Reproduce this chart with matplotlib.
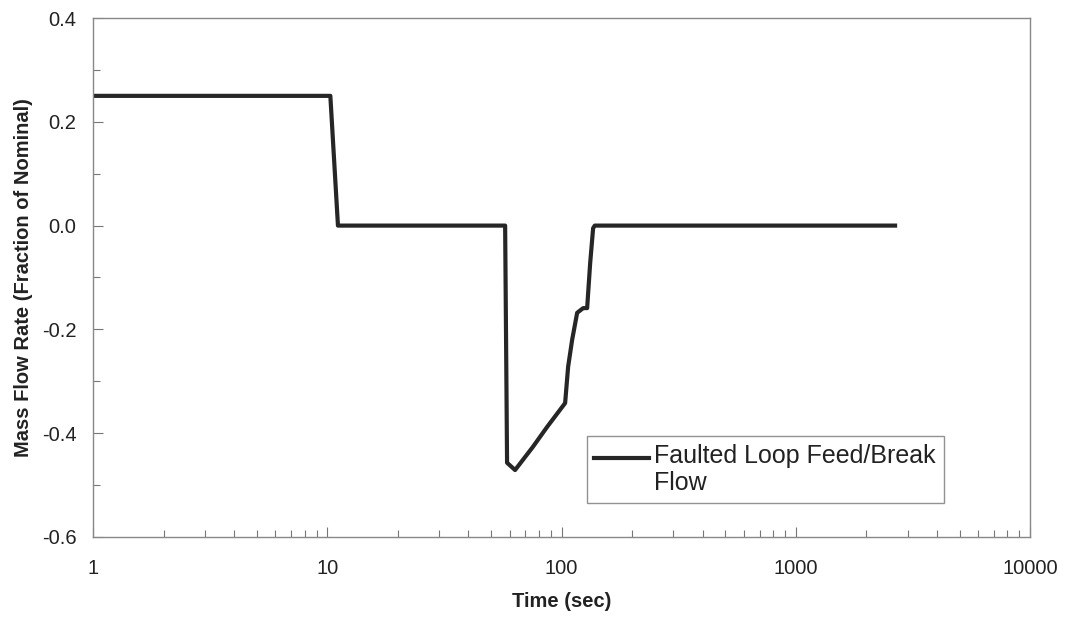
import matplotlib
matplotlib.use("Agg")
import matplotlib.pyplot as plt
from matplotlib.legend_handler import HandlerLine2D
from matplotlib.transforms import Affine2D
from matplotlib.ticker import FixedLocator, FixedFormatter, LogLocator, MultipleLocator, NullFormatter

plt.rcParams['font.family'] = ['Liberation Sans', 'DejaVu Sans']

# faulted loop feed / break flow vs. time
time_sec = [1.0, 10.3, 11.1, 57.4, 58.5, 63.3, 75.5, 86.7, 103.5, 106.6,
            110.9, 116.5, 123.6, 128.5, 132.4, 136.3, 138.5, 2650.0]
flow = [0.25, 0.25, 0.0, 0.0, -0.457, -0.471, -0.426, -0.388, -0.342, -0.272,
        -0.22, -0.168, -0.159, -0.159, -0.072, -0.005, 0.0, 0.0]

x_ticks = [1, 10, 100, 1000, 10000]
x_tick_labels = ["1", "10", "100", "1000", "10000"]
y_ticks = [-0.6, -0.4, -0.2, 0.0, 0.2, 0.4]


class FirstLineHandler(HandlerLine2D):
    """Legend line aligned with the first row of a two-line label."""
    def create_artists(self, legend, orig_handle, xdescent, ydescent,
                       width, height, fontsize, trans):
        trans = Affine2D().translate(0, 9.0) + trans
        return super().create_artists(legend, orig_handle, xdescent, ydescent,
                                      width, height, fontsize, trans)


fig = plt.figure(figsize=(10.72, 6.17), dpi=100)
ax = fig.add_axes([0.0868, 0.1297, 0.8742, 0.8411])

line, = ax.plot(time_sec, flow, color='#262626', lw=3.0, solid_joinstyle='round',
                label='Faulted Loop Feed/Break\nFlow')

ax.set_xscale('log')
ax.set_xlim(1, 10000)
ax.set_ylim(-0.6, 0.4)

ax.xaxis.set_major_locator(FixedLocator(x_ticks))
ax.xaxis.set_major_formatter(FixedFormatter(x_tick_labels))
ax.xaxis.set_minor_locator(LogLocator(base=10, subs=range(2, 10)))
ax.xaxis.set_minor_formatter(NullFormatter())
ax.set_yticks(y_ticks)
ax.set_yticklabels([f"{v:.1f}" for v in y_ticks])
ax.yaxis.set_minor_locator(MultipleLocator(0.1))

ax.tick_params(which='both', direction='in', color='#777777', width=0.8)
ax.tick_params(which='major', length=7, labelsize=14.5, labelcolor='#222222')
ax.tick_params(which='minor', length=5)
ax.tick_params(axis='x', pad=16)
ax.tick_params(axis='y', pad=12)

for s in ax.spines.values():
    s.set_color('#888888')
    s.set_linewidth(1.0)

ax.set_xlabel('Time (sec)', fontsize=14.5, fontweight='bold', color='#222222', labelpad=10)
ax.set_ylabel('Mass Flow Rate (Fraction of Nominal)', fontsize=14.5, fontweight='bold',
              color='#222222', labelpad=6)

leg = ax.legend(loc='lower left', bbox_to_anchor=(0.527, 0.0655), borderaxespad=0,
                fontsize=18, frameon=True, fancybox=False, handlelength=2.2,
                handletextpad=0.2, borderpad=0.3, labelspacing=0.2,
                handler_map={line: FirstLineHandler()})
leg.get_frame().set_edgecolor('#777777')
leg.get_frame().set_linewidth(1.0)
for t in leg.get_texts():
    t.set_color('#222222')

fig.savefig('out.png', dpi=100)
